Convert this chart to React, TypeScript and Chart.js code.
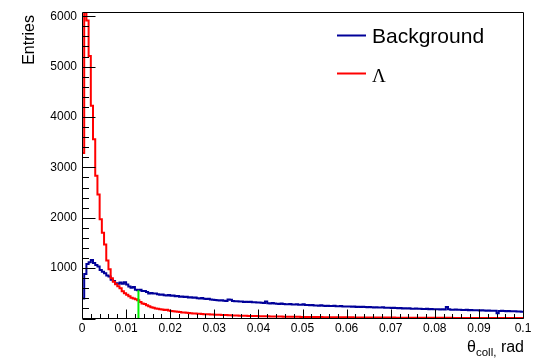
import React, { useEffect, useRef } from "react";
import { Chart, registerables } from "chart.js";

Chart.register(...registerables);

// ---- data ----
const BIN_WIDTH = 0.0005;
const X_MIN = 0;
const X_MAX = 0.1;
const Y_MIN = 0;
const Y_MAX = 6080;
const X_TICKS = [0, 0.01, 0.02, 0.03, 0.04, 0.05, 0.06, 0.07, 0.08, 0.09, 0.1];
const X_TICK_LABELS = ["0", "0.01", "0.02", "0.03", "0.04", "0.05", "0.06", "0.07", "0.08", "0.09", "0.1"];
const Y_TICKS = [0, 1000, 2000, 3000, 4000, 5000, 6000];
const Y_TICK_LABELS = ["", "1000", "2000", "3000", "4000", "5000", "6000"];

const SERIES_NAMES = ["Background", "\u039B"];

const backgroundCounts = [
  395, 885, 1080, 1115, 1160, 1100, 1060, 1030, 965, 930,
  900, 853, 833, 768, 742, 702, 690, 715, 690, 722,
  676, 637, 611, 624, 572, 559, 572, 546, 546, 526,
  494, 507, 494, 494, 480, 470, 478, 462, 455, 466,
  450, 458, 440, 446, 432, 438, 425, 430, 418, 422,
  410, 415, 404, 398, 406, 392, 385, 390, 378, 372,
  366, 360, 355, 362, 350, 348, 375, 372, 346, 340,
  342, 335, 338, 330, 332, 326, 334, 322, 325, 318,
  316, 312, 310, 335, 305, 300, 306, 298, 295, 290,
  296, 288, 285, 282, 290, 280, 276, 284, 275, 272,
  285, 270, 268, 262, 266, 258, 260, 255, 262, 252,
  250, 255, 248, 246, 252, 244, 242, 248, 240, 238,
  238, 240, 234, 236, 230, 232, 228, 234, 226, 224,
  228, 222, 220, 224, 218, 216, 222, 214, 212, 215,
  210, 212, 206, 204, 208, 200, 202, 198, 205, 196,
  194, 198, 192, 195, 190, 188, 192, 186, 190, 184,
  183, 186, 180, 184, 178, 230, 182, 176, 174, 178,
  172, 175, 170, 168, 172, 166, 170, 164, 166, 162,
  160, 164, 158, 156, 160, 154, 152, 156, 105, 150,
  152, 148, 146, 150, 144, 142, 146, 140, 138, 136,
];

const lambdaCounts = [
  3283, 6080, 5915, 5210, 4224, 3557, 2832, 2460, 1970, 1700,
  1470, 1150, 980, 800, 730, 680, 640, 600, 540, 500,
  470, 440, 410, 395, 380, 360, 330, 300, 290, 265,
  245, 225, 215, 200, 195, 185, 180, 170, 172, 160,
  150, 145, 140, 132, 128, 120, 118, 112, 110, 104,
  100, 98, 95, 92, 90, 86, 84, 82, 80, 78,
  76, 74, 73, 70, 68, 67, 65, 63, 62, 60,
  58, 57, 56, 55, 53, 52, 51, 50, 49, 48,
  47, 46, 45, 44, 43, 42, 41, 41, 40, 39,
  38, 37, 37, 36, 35, 35, 34, 33, 33, 32,
  32, 31, 31, 30, 30, 29, 29, 28, 28, 27,
  27, 27, 26, 26, 25, 25, 25, 24, 24, 24,
  23, 23, 23, 22, 22, 22, 21, 21, 21, 20,
  20, 20, 20, 19, 19, 19, 19, 18, 18, 18,
  18, 18, 17, 17, 17, 17, 16, 16, 16, 16,
  16, 15, 15, 15, 15, 15, 14, 14, 14, 14,
  14, 14, 13, 13, 13, 13, 13, 13, 12, 12,
  12, 12, 12, 12, 12, 11, 11, 11, 11, 11,
  11, 11, 11, 10, 10, 10, 10, 10, 10, 10,
  10, 9, 9, 9, 9, 9, 9, 9, 9, 9,
];

const CUT_X = 0.0128;
const CUT_TOP = 559;

// ---- styles ----
const BLUE = "#000099";
const RED = "#ff0000";
const GREEN = "#00ee00";
const FONT = "'Liberation Sans', Arial, Helvetica, sans-serif";
const SERIF = "'Liberation Serif', 'Times New Roman', serif";

function histPoints(counts: number[]) {
  const pts = counts.map((v, i) => ({ x: X_MIN + i * BIN_WIDTH, y: v }));
  pts.push({ x: X_MIN + counts.length * BIN_WIDTH, y: counts[counts.length - 1] });
  return pts;
}

const rootDecor = {
  id: "rootDecor",
  afterDatasetsDraw(chart: any) {
    const { ctx, chartArea: a, scales } = chart;
    const xs = scales.x;
    const ys = scales.y;
    ctx.save();
    ctx.strokeStyle = "#000";
    ctx.lineWidth = 1;
    ctx.beginPath();
    const L = Math.round(a.left) + 0.5;
    const R = Math.round(a.right) + 0.5;
    const T = Math.round(a.top) + 0.5;
    const B = Math.round(a.bottom) - 0.5;
    ctx.moveTo(L, T);
    ctx.lineTo(R, T);
    ctx.lineTo(R, B);
    ctx.lineTo(L, B);
    ctx.closePath();
    // y ticks (inside): major every label step, 5 minor divisions
    const yStep = Y_TICKS[1] - Y_TICKS[0];
    for (let k = 0; Y_MIN + k * (yStep / 5) <= Y_MAX; k++) {
      const v = Y_MIN + k * (yStep / 5);
      const py = Math.round(ys.getPixelForValue(v)) + 0.5;
      const len = k % 5 === 0 ? 13 : 6.5;
      ctx.moveTo(L, py);
      ctx.lineTo(L + len, py);
    }
    // x ticks (inside)
    const xStep = X_TICKS[1] - X_TICKS[0];
    for (let k = 0; k <= (X_TICKS.length - 1) * 5; k++) {
      const v = X_MIN + k * (xStep / 5);
      const px = Math.round(xs.getPixelForValue(v)) + 0.5;
      const len = k % 5 === 0 ? 9 : 4.5;
      ctx.moveTo(px, B);
      ctx.lineTo(px, B - len);
    }
    ctx.stroke();
    ctx.restore();
  },
  afterDraw(chart: any) {
    const { ctx } = chart;
    ctx.save();
    ctx.fillStyle = "#000";
    // legend
    const lx0 = 337;
    const lx1 = 366;
    const rows = [
      { color: BLUE, label: SERIES_NAMES[0], ly: 35.5, ty: 42.5, font: `21px ${FONT}` },
      { color: RED, label: SERIES_NAMES[1], ly: 73.5, ty: 81.5, font: `19px ${SERIF}` },
    ];
    rows.forEach((r) => {
      ctx.strokeStyle = r.color;
      ctx.lineWidth = 2;
      ctx.beginPath();
      ctx.moveTo(lx0, r.ly);
      ctx.lineTo(lx1, r.ly);
      ctx.stroke();
      ctx.font = r.font;
      ctx.textAlign = "left";
      ctx.textBaseline = "alphabetic";
      ctx.fillText(r.label, 372, r.ty);
    });

    // x-axis title: θ_coll, rad  (right aligned)
    const big = `16px ${FONT}`;
    const small = `11.5px ${FONT}`;
    ctx.font = big;
    const w1 = ctx.measureText("\u03B8").width;
    const w3 = ctx.measureText(" rad").width;
    ctx.font = small;
    const w2 = ctx.measureText("coll,").width;
    let x = 524 - (w1 + w2 + w3);
    ctx.textAlign = "left";
    ctx.textBaseline = "alphabetic";
    ctx.font = big;
    ctx.fillText("\u03B8", x, 351.5);
    x += w1;
    ctx.font = small;
    ctx.fillText("coll,", x, 355.5);
    x += w2;
    ctx.font = big;
    ctx.fillText(" rad", x, 351.5);

    // y-axis title
    ctx.translate(34, 15);
    ctx.rotate(-Math.PI / 2);
    ctx.font = `16px ${FONT}`;
    ctx.textAlign = "right";
    ctx.textBaseline = "alphabetic";
    ctx.fillText("Entries", 0, 0);
    ctx.restore();
  },
};

export default function App() {
  const ref = useRef<HTMLCanvasElement | null>(null);

  useEffect(() => {
    if (!ref.current) return;
    const chart = new Chart(ref.current, {
      type: "line",
      data: {
        datasets: [
          {
            label: SERIES_NAMES[0],
            data: histPoints(backgroundCounts),
            borderColor: BLUE,
            backgroundColor: BLUE,
            borderWidth: 2,
            pointRadius: 0,
            stepped: "before",
            fill: false,
            order: 3,
          },
          {
            label: SERIES_NAMES[1],
            data: histPoints(lambdaCounts),
            borderColor: RED,
            backgroundColor: RED,
            borderWidth: 2,
            pointRadius: 0,
            stepped: "before",
            fill: false,
            order: 2,
          },
          {
            label: "cut",
            data: [
              { x: CUT_X, y: 0 },
              { x: CUT_X, y: CUT_TOP },
            ],
            borderColor: GREEN,
            backgroundColor: GREEN,
            borderWidth: 2,
            pointRadius: 0,
            fill: false,
            order: 1,
          },
        ],
      },
      options: {
        responsive: false,
        animation: false,
        devicePixelRatio: 1,
        layout: { padding: { left: 0, right: 22, top: 9, bottom: 0 } },
        plugins: {
          legend: { display: false },
          tooltip: { enabled: false },
          title: { display: false },
        },
        scales: {
          x: {
            type: "linear",
            position: "bottom",
            min: X_MIN,
            max: X_MAX,
            grid: { display: false, drawTicks: false },
            border: { display: false },
            afterBuildTicks: (s: any) => {
              s.ticks = X_TICKS.map((v) => ({ value: v }));
            },
            ticks: {
              autoSkip: false,
              maxRotation: 0,
              padding: 3,
              color: "#000",
              font: { family: FONT, size: 12 },
              callback: (_v: any, i: number) => X_TICK_LABELS[i],
            },
            afterFit: (s: any) => {
              s.height = 43.5;
            },
          },
          y: {
            type: "linear",
            position: "left",
            min: Y_MIN,
            max: Y_MAX,
            grid: { display: false, drawTicks: false },
            border: { display: false },
            afterBuildTicks: (s: any) => {
              s.ticks = Y_TICKS.map((v) => ({ value: v }));
            },
            ticks: {
              autoSkip: false,
              padding: 5,
              color: "#000",
              font: { family: FONT, size: 12 },
              callback: (_v: any, i: number) => Y_TICK_LABELS[i],
            },
            afterFit: (s: any) => {
              s.width = 82;
            },
          },
        },
      },
      plugins: [rootDecor],
    });
    return () => chart.destroy();
  }, []);

  return (
    <div style={{ position: "fixed", left: 0, top: 0, width: 545, height: 362, background: "#fff" }}>
      <canvas ref={ref} width={545} height={362} style={{ display: "block" }} />
    </div>
  );
}
